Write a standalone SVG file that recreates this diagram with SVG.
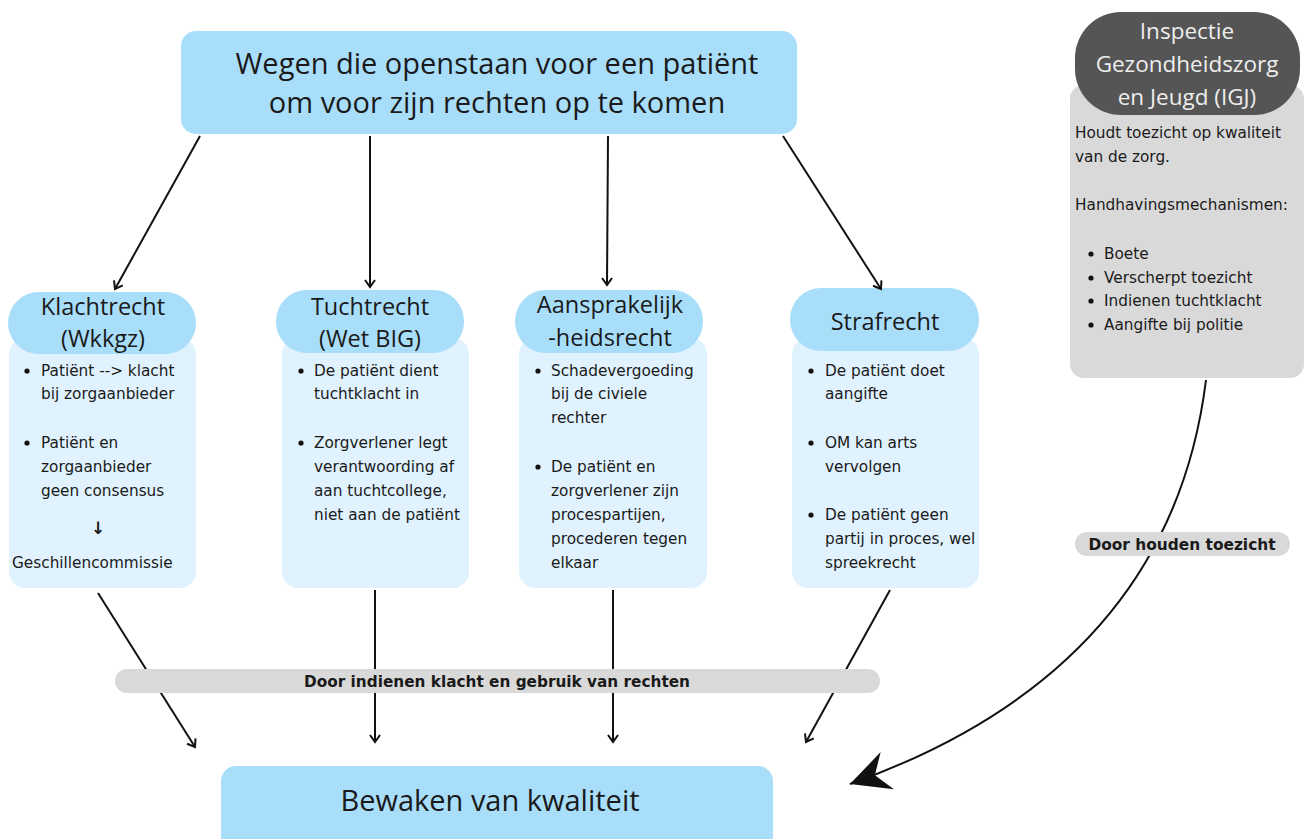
<svg xmlns="http://www.w3.org/2000/svg" width="1305" height="839" viewBox="0 0 1305 839">
<style>
.hdr{fill:#A9DEFB}
.body{fill:#E0F2FD}
.t{font-family:"Open Sans","Noto Sans",sans-serif;fill:#1a1a1a}
.big{font-size:29px}
.h{font-size:23.5px;text-anchor:middle}
.s{font-family:"DejaVu Sans","Noto Sans",sans-serif;font-size:15.3px;fill:#1a1a1a}
.lbl{font-family:"DejaVu Sans","Open Sans",sans-serif;font-weight:bold;font-size:15.4px;fill:#1a1a1a;text-anchor:middle}
.c{stroke:#111;stroke-width:2;fill:none}
.b{fill:#111}
</style>
<defs>
<marker id="a" viewBox="0 0 12 12" refX="10" refY="6" markerWidth="12" markerHeight="12" markerUnits="userSpaceOnUse" orient="auto">
<path d="M3,1 L10,6 L3,11" fill="none" stroke="#111" stroke-width="2"/>
</marker>
<marker id="big" viewBox="0 0 40 40" refX="38" refY="20" markerWidth="44" markerHeight="44" markerUnits="userSpaceOnUse" orient="auto">
<path d="M38,20 L2,2 L14,20 L2,38 Z" fill="#111"/>
</marker>
</defs>
<rect width="1305" height="839" fill="#fff"/>

<g id="top">
<rect x="181" y="31" width="616" height="103" rx="15" class="hdr"/>
<text class="t big" x="497" y="74" text-anchor="middle">Wegen die openstaan voor een patiënt</text>
<text class="t big" x="497" y="113" text-anchor="middle">om voor zijn rechten op te komen</text>
</g>

<g id="klachtrecht">
<rect x="9" y="338" width="187" height="250" rx="16" class="body"/>
<rect x="8" y="292" width="188" height="62" rx="31" class="hdr"/>
<text class="t h" x="103" y="315">Klachtrecht</text>
<text class="t h" x="103" y="347">(Wkkgz)</text>
<g class="s">
<circle class="b" cx="27" cy="371" r="2.6"/><text x="41" y="376">Patiënt --&gt; klacht</text>
<text x="41" y="399">bij zorgaanbieder</text>
<circle class="b" cx="27" cy="443" r="2.6"/><text x="41" y="448">Patiënt en</text>
<text x="41" y="472">zorgaanbieder</text>
<text x="41" y="496">geen consensus</text>
<text x="98" y="534" text-anchor="middle" font-weight="bold" font-size="17">↓</text>
<text x="12" y="568">Geschillencommissie</text>
</g>
</g>

<g id="tuchtrecht">
<rect x="282" y="338" width="187" height="250" rx="16" class="body"/>
<rect x="276" y="290" width="188" height="63" rx="31" class="hdr"/>
<text class="t h" x="370" y="315">Tuchtrecht</text>
<text class="t h" x="370" y="347">(Wet BIG)</text>
<g class="s">
<circle class="b" cx="301" cy="371" r="2.6"/><text x="314" y="376">De patiënt dient</text>
<text x="314" y="399">tuchtklacht in</text>
<circle class="b" cx="301" cy="443" r="2.6"/><text x="314" y="448">Zorgverlener legt</text>
<text x="314" y="472">verantwoording af</text>
<text x="314" y="496">aan tuchtcollege,</text>
<text x="314" y="520">niet aan de patiënt</text>
</g>
</g>

<g id="aansprakelijkheidsrecht">
<rect x="519" y="338" width="188" height="250" rx="16" class="body"/>
<rect x="515" y="290" width="188" height="63" rx="31" class="hdr"/>
<text class="t h" x="610" y="313">Aansprakelijk</text>
<text class="t h" x="610" y="346">-heidsrecht</text>
<g class="s">
<circle class="b" cx="538" cy="371" r="2.6"/><text x="551" y="376">Schadevergoeding</text>
<text x="551" y="399">bij de civiele</text>
<text x="551" y="423">rechter</text>
<circle class="b" cx="538" cy="467" r="2.6"/><text x="551" y="472">De patiënt en</text>
<text x="551" y="496">zorgverlener zijn</text>
<text x="551" y="520">procespartijen,</text>
<text x="551" y="544">procederen tegen</text>
<text x="551" y="568">elkaar</text>
</g>
</g>

<g id="strafrecht">
<rect x="792" y="338" width="187" height="250" rx="16" class="body"/>
<rect x="790" y="288" width="189" height="63" rx="31" class="hdr"/>
<text class="t h" x="885" y="330">Strafrecht</text>
<g class="s">
<circle class="b" cx="811" cy="371" r="2.6"/><text x="825" y="376">De patiënt doet</text>
<text x="825" y="399">aangifte</text>
<circle class="b" cx="811" cy="443" r="2.6"/><text x="825" y="448">OM kan arts</text>
<text x="825" y="472">vervolgen</text>
<circle class="b" cx="811" cy="515" r="2.6"/><text x="825" y="520">De patiënt geen</text>
<text x="825" y="544">partij in proces, wel</text>
<text x="825" y="568">spreekrecht</text>
</g>
</g>

<g id="igj">
<rect x="1070" y="85" width="234" height="293" rx="14" fill="#D9D9D9"/>
<rect x="1075" y="12" width="225" height="103" rx="46" fill="#555555"/>
<g font-family="Open Sans, Noto Sans, sans-serif" fill="#eeeeee" font-size="22.5" text-anchor="middle">
<text x="1187" y="39">Inspectie</text>
<text x="1187" y="72">Gezondheidszorg</text>
<text x="1187" y="105">en Jeugd (IGJ)</text>
</g>
<g class="s">
<text x="1075" y="138">Houdt toezicht op kwaliteit</text>
<text x="1075" y="162">van de zorg.</text>
<text x="1075" y="210">Handhavingsmechanismen:</text>
<circle class="b" cx="1091" cy="254" r="2.6"/><text x="1104" y="259">Boete</text>
<circle class="b" cx="1091" cy="278" r="2.6"/><text x="1104" y="283">Verscherpt toezicht</text>
<circle class="b" cx="1091" cy="301" r="2.6"/><text x="1104" y="306">Indienen tuchtklacht</text>
<circle class="b" cx="1091" cy="325" r="2.6"/><text x="1104" y="330">Aangifte bij politie</text>
</g>
</g>

<g id="bewaken">
<rect x="221" y="766" width="552" height="90" rx="15" class="hdr"/>
<text class="t" x="490" y="811" text-anchor="middle" font-size="29">Bewaken van kwaliteit</text>
</g>

<g id="connectors">
<line class="c" x1="200" y1="136" x2="115" y2="289" marker-end="url(#a)"/>
<line class="c" x1="370" y1="136" x2="370" y2="287" marker-end="url(#a)"/>
<line class="c" x1="608" y1="136" x2="607" y2="285" marker-end="url(#a)"/>
<line class="c" x1="783" y1="136" x2="881" y2="289" marker-end="url(#a)"/>
<line class="c" x1="98" y1="593" x2="195" y2="747" marker-end="url(#a)"/>
<line class="c" x1="375" y1="590" x2="375" y2="742" marker-end="url(#a)"/>
<line class="c" x1="613" y1="590" x2="613" y2="742" marker-end="url(#a)"/>
<line class="c" x1="890" y1="590" x2="806" y2="742" marker-end="url(#a)"/>
<path class="c" d="M1206,380 Q1170,670 850,784" stroke-width="2.5" marker-end="url(#big)"/>
</g>

<g id="label-klacht">
<rect x="115" y="669" width="765" height="24" rx="12" fill="#D9D9D9"/>
<text class="lbl" x="497" y="687" font-family="Open Sans, sans-serif" textLength="386" lengthAdjust="spacingAndGlyphs" font-size="16">Door indienen klacht en gebruik van rechten</text>
</g>
<g id="label-toezicht">
<rect x="1075" y="532" width="215" height="24" rx="12" fill="#D9D9D9"/>
<text class="lbl" x="1182" y="550">Door houden toezicht</text>
</g>
</svg>
